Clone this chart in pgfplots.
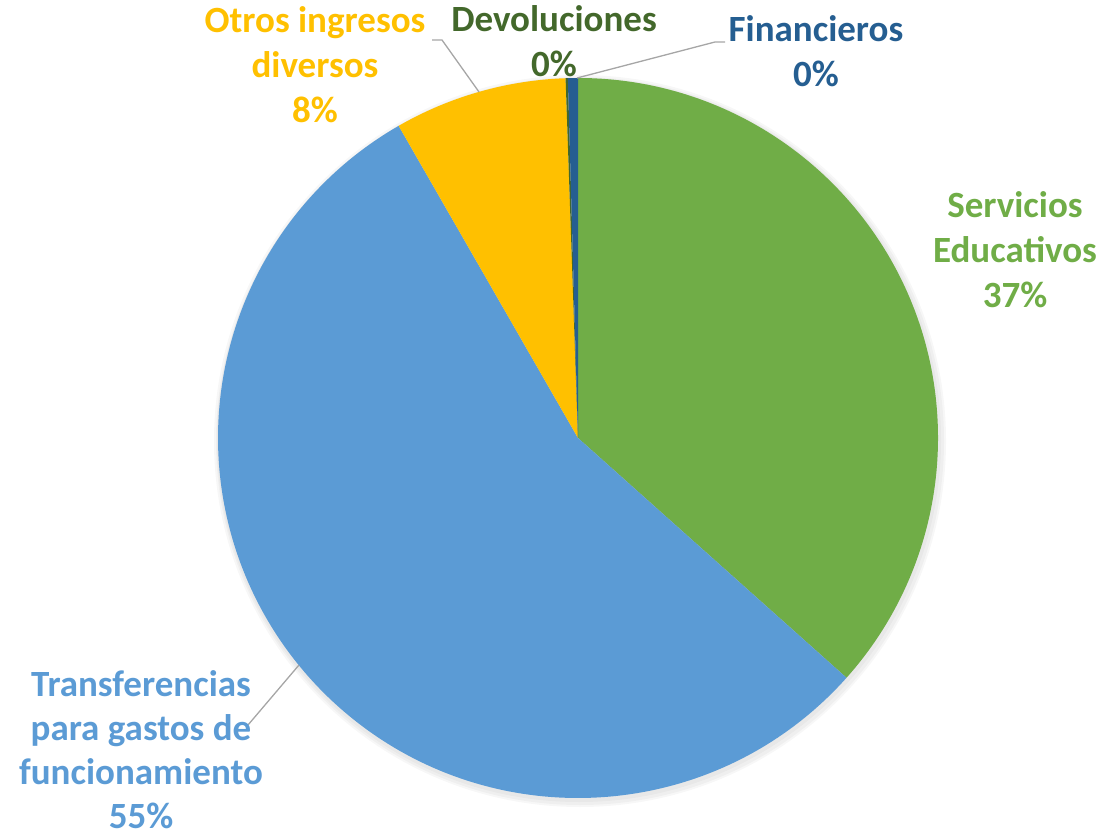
\documentclass[border=0pt]{standalone}
\usepackage{fontspec}
\setmainfont{Carlito}
\usepackage{pgfplots}
\usepackage{pgfplotstable}
\pgfplotsset{compat=1.18}
\definecolor{cSer}{HTML}{70AD47}
\definecolor{cTra}{HTML}{5B9BD5}
\definecolor{cOtr}{HTML}{FFC000}
\definecolor{cDev}{HTML}{43682B}
\definecolor{cFin}{HTML}{255E91}
\definecolor{cLead}{HTML}{A6A6A6}
% slice shares in percent, clockwise from 12 o'clock
\pgfplotstableread{
value color
36.6 cSer
55.1 cTra
7.75 cOtr
0.1 cDev
0.45 cFin
}\piedata
\newcommand{\lab}[4]{\node[anchor=base, text=#3, inner sep=0pt, font=\fontsize{18.5}{22}\selectfont\bfseries] at (axis cs:#1,#2) {#4};}
\begin{document}
\begin{tikzpicture}
\begin{axis}[scale only axis, width=550.5pt, height=419pt,
  xmin=0, xmax=1101, ymin=0, ymax=838, y dir=reverse,
  hide axis, clip=false]
\coordinate (BL) at (axis cs:0,838);
\coordinate (TR) at (axis cs:1101,0);
% soft shadow
\fill[black, opacity=0.03] (axis cs:580,441) circle[radius=183pt];
\fill[black, opacity=0.03] (axis cs:580,441) circle[radius=182pt];
\fill[black, opacity=0.03] (axis cs:579,440) circle[radius=181pt];
\xdef\cum{0}
\pgfplotsinvokeforeach{0,...,4}{
  \pgfplotstablegetelem{#1}{value}\of\piedata \let\sliceVal\pgfplotsretval
  \pgfplotstablegetelem{#1}{color}\of\piedata \let\sliceCol\pgfplotsretval
  \pgfmathsetmacro\aS{90-3.6*\cum}
  \pgfmathsetmacro\aE{90-3.6*(\cum+\sliceVal)}
  \edef\doit{\noexpand\fill[\sliceCol] (axis cs:578,438) -- ++(\aS:180pt) arc[start angle=\aS, end angle=\aE, radius=180pt] -- cycle;}
  \doit
  \pgfmathsetmacro\cumNew{\cum+\sliceVal}
  \global\let\cum\cumNew
}
% leader lines
\draw[cLead, line width=0.65pt] (axis cs:479,92) -- (axis cs:442,40) -- (axis cs:432,40);
\draw[cLead, line width=0.65pt] (axis cs:577,78) -- (axis cs:715,42) -- (axis cs:725,42);
\draw[cLead, line width=0.65pt] (axis cs:299,665) -- (axis cs:248,725);
% labels
\lab{315}{33}{cOtr}{Otros ingresos}
\lab{315}{78}{cOtr}{diversos}
\lab{315}{123}{cOtr}{8\%}
\lab{554}{32}{cDev}{Devoluciones}
\lab{554}{77}{cDev}{0\%}
\lab{816}{42}{cFin}{Financieros}
\lab{816}{87}{cFin}{0\%}
\lab{1015}{218}{cSer}{Servicios}
\lab{1015}{263}{cSer}{Educativos}
\lab{1015}{308}{cSer}{37\%}
\lab{141}{696}{cTra}{Transferencias}
\lab{141}{740}{cTra}{para gastos de}
\lab{141}{784}{cTra}{funcionamiento}
\lab{141}{828}{cTra}{55\%}
\end{axis}
\pgfresetboundingbox
\path (BL) rectangle (TR);
\end{tikzpicture}
\end{document}
